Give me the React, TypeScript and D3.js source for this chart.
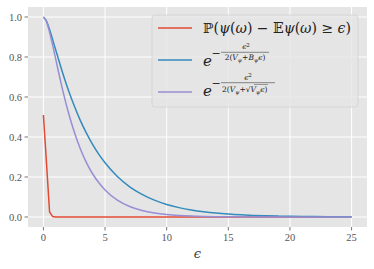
import React from 'react';
import * as d3 from 'd3';

// sample points along epsilon
const eps = [0, 0.25, 0.5, 0.75, 1, 1.5, 2, 2.5, 3, 3.5, 4, 4.5, 5,
  6, 7, 8, 9, 10, 11, 12, 13, 14, 15, 16, 17, 18, 19, 20, 21, 22, 23, 24, 25];

// empirical tail probability (red)
const probTail = [0.51, 0.27, 0.025, 0.002,
  0, 0, 0, 0, 0, 0, 0, 0, 0, 0, 0, 0, 0, 0, 0, 0, 0, 0, 0, 0, 0, 0, 0, 0, 0, 0, 0, 0, 0];

// bernstein-type bound (blue)
const boundB = [1, 0.979, 0.937, 0.887, 0.835, 0.733, 0.639, 0.556, 0.482, 0.418, 0.362, 0.313, 0.271,
  0.2025, 0.151, 0.113, 0.0842, 0.0628, 0.0469, 0.035, 0.0261, 0.0194, 0.0145, 0.0108, 0.0081,
  0.006, 0.0045, 0.0033, 0.0025, 0.0019, 0.0014, 0.001, 0.0008];

// sqrt(V) bound (purple)
const boundSqrt = [1, 0.977, 0.924, 0.859, 0.789, 0.651, 0.529, 0.426, 0.34, 0.271, 0.215, 0.171, 0.135,
  0.0844, 0.0525, 0.0326, 0.0202, 0.0125, 0.0078, 0.0048, 0.003, 0.0018, 0.0011, 0.0007, 0.0004,
  0.0003, 0.0002, 0.0001, 0.0001, 0, 0, 0, 0];

const xTicks = [0, 5, 10, 15, 20, 25];
const yTicks = [0, 0.2, 0.4, 0.6, 0.8, 1.0];

const W = 374, H = 269;
const margin = { left: 28, right: 7, top: 7, bottom: 42 };

const tickFont = '"Liberation Serif", "DejaVu Serif", serif';
const mathFont = '"DejaVu Serif", serif';

export default function App() {
  const x = d3.scaleLinear().domain([-1.25, 26.25]).range([margin.left, W - margin.right]);
  const y = d3.scaleLinear().domain([-0.05, 1.05]).range([H - margin.bottom, margin.top]);

  const lineLin = d3.line<number>().x((d, i) => x(eps[i])).y(d => y(d));
  const lineSmooth = d3.line<number>().x((d, i) => x(eps[i])).y(d => y(d)).curve(d3.curveMonotoneX);

  const px0 = margin.left, px1 = W - margin.right;
  const py0 = margin.top, py1 = H - margin.bottom;

  return (
    <svg width={W} height={H} style={{ position: 'absolute', left: 0, top: 0, background: '#fff' }}>
      <rect x={px0} y={py0} width={px1 - px0} height={py1 - py0} fill="#E5E5E5" />
      {/* grid */}
      {xTicks.map(t => (
        <line key={'gx' + t} x1={x(t)} x2={x(t)} y1={py0} y2={py1} stroke="#fff" strokeWidth={1} />
      ))}
      {yTicks.map(t => (
        <line key={'gy' + t} x1={px0} x2={px1} y1={y(t)} y2={y(t)} stroke="#fff" strokeWidth={1} />
      ))}
      {/* ticks */}
      {xTicks.map(t => (
        <g key={'tx' + t}>
          <line x1={x(t)} x2={x(t)} y1={py1} y2={py1 + 3.5} stroke="#555" strokeWidth={0.8} />
          <text x={x(t)} y={py1 + 14} textAnchor="middle" fontFamily={tickFont} fontSize={10.5} fill="#555">{t}</text>
        </g>
      ))}
      {yTicks.map(t => (
        <g key={'ty' + t}>
          <line x1={px0 - 3.5} x2={px0} y1={y(t)} y2={y(t)} stroke="#555" strokeWidth={0.8} />
          <text x={px0 - 6} y={y(t) + 3.5} textAnchor="end" fontFamily={tickFont} fontSize={10.5} fill="#555">{d3.format('.1f')(t)}</text>
        </g>
      ))}
      <text x={(px0 + px1) / 2} y={258} textAnchor="middle" fontFamily={mathFont} fontStyle="italic" fontSize={13} fill="#444">ϵ</text>

      {/* series */}
      <path d={lineLin(probTail) || ''} fill="none" stroke="#E24A33" strokeWidth={1.5} />
      <path d={lineSmooth(boundB) || ''} fill="none" stroke="#348ABD" strokeWidth={1.5} />
      <path d={lineSmooth(boundSqrt) || ''} fill="none" stroke="#988ED5" strokeWidth={1.5} />

      {/* legend */}
      <rect x={152} y={15} width={206} height={92} rx={3} fill="#E5E5E5" fillOpacity={0.8} stroke="#CCCCCC" strokeOpacity={0.8} strokeWidth={0.8} />
      <line x1={158} x2={192} y1={28} y2={28} stroke="#E24A33" strokeWidth={1.5} />
      <line x1={158} x2={192} y1={60} y2={60} stroke="#348ABD" strokeWidth={1.5} />
      <line x1={158} x2={192} y1={92} y2={92} stroke="#988ED5" strokeWidth={1.5} />

      <text x={203} y={33} fontFamily={mathFont} fontSize={14} fill="#222">
        ℙ(<tspan fontStyle="italic">ψ</tspan>(<tspan fontStyle="italic">ω</tspan>) − 𝔼<tspan fontStyle="italic">ψ</tspan>(<tspan fontStyle="italic">ω</tspan>) ≥ <tspan fontStyle="italic">ϵ</tspan>)
      </text>

      {/* blue entry */}
      <text x={203} y={66} fontFamily={mathFont} fontStyle="italic" fontSize={15} fill="#222">e</text>
      <text x={211.5} y={57} fontFamily={mathFont} fontSize={11} fill="#222">−</text>
      <text x={246} y={49} textAnchor="middle" fontFamily={mathFont} fontStyle="italic" fontSize={7.5} fill="#222">
        ϵ<tspan fontStyle="normal" fontSize={5.5} dy={-2.5}>2</tspan>
      </text>
      <line x1={221} x2={269} y1={52.3} y2={52.3} stroke="#222" strokeWidth={0.5} />
      <text x={245} y={60} textAnchor="middle" fontFamily={mathFont} fontSize={7.5} fill="#222">
        2(<tspan fontStyle="italic">V</tspan><tspan fontStyle="italic" fontSize={5.5} dy={1.5}>ψ</tspan><tspan dy={-1.5}>+</tspan><tspan fontStyle="italic">B</tspan><tspan fontStyle="italic" fontSize={5.5} dy={1.5}>ψ</tspan><tspan fontStyle="italic" dy={-1.5}>ϵ</tspan>)
      </text>

      {/* purple entry */}
      <text x={203} y={96} fontFamily={mathFont} fontStyle="italic" fontSize={15} fill="#222">e</text>
      <text x={211.5} y={87} fontFamily={mathFont} fontSize={11} fill="#222">−</text>
      <text x={248} y={79.5} textAnchor="middle" fontFamily={mathFont} fontStyle="italic" fontSize={7.5} fill="#222">
        ϵ<tspan fontStyle="normal" fontSize={5.5} dy={-2.5}>2</tspan>
      </text>
      <line x1={221} x2={275} y1={82.7} y2={82.7} stroke="#222" strokeWidth={0.5} />
      <text x={222} y={92} fontFamily={mathFont} fontSize={7.5} fill="#222">
        2(<tspan fontStyle="italic">V</tspan><tspan fontStyle="italic" fontSize={5.5} dy={1.5}>ψ</tspan><tspan dy={-1.5}>+√</tspan><tspan fontStyle="italic">V</tspan><tspan fontStyle="italic" fontSize={5.5} dy={1.5}>ψ</tspan><tspan fontStyle="italic" dy={-1.5}>ϵ</tspan>)
      </text>
      <line x1={254} x2={268} y1={84.5} y2={84.5} stroke="#222" strokeWidth={0.4} />
    </svg>
  );
}
